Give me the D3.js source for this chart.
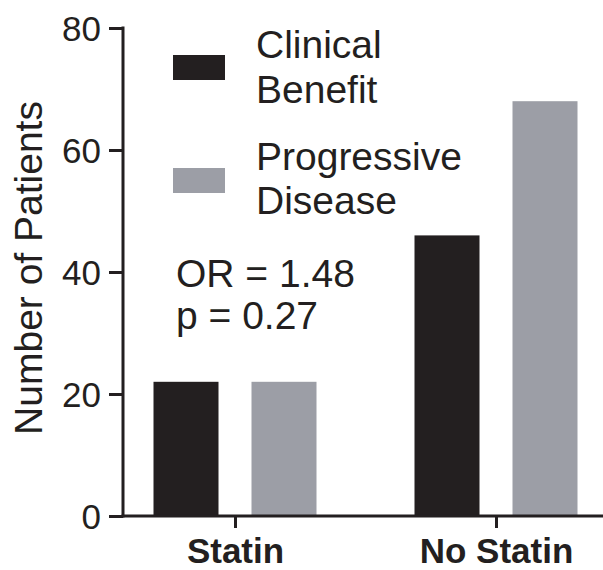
<!DOCTYPE html>
<html>
<head>
<meta charset="utf-8">
<script src="https://cdn.jsdelivr.net/npm/d3@7/dist/d3.min.js"></script>
<style>
html,body{margin:0;padding:0;background:#fff;}
svg{display:block;}
text{font-family:"Liberation Sans", Arial, Helvetica, sans-serif;fill:#231f20;}
</style>
</head>
<body>
<svg id="chart" width="603" height="570"></svg>
<script>
const categories = ["Statin", "No Statin"];
const series = ["Clinical Benefit", "Progressive Disease"];
const clinicalBenefit = [22, 46];
const progressiveDisease = [22, 68];
const yTicks = [0, 20, 40, 60, 80];
const legendLines = [["Clinical", "Benefit"], ["Progressive", "Disease"]];
const annotation = ["OR = 1.48", "p = 0.27"];
const colors = ["#231f20", "#9c9ea6"];

const svg = d3.select("#chart");
const ink = "#231f20";

const y = d3.scaleLinear().domain([0, 80]).range([516, 28]);
const x0 = d3.scaleBand().domain(categories).range([104.5, 626.5]).paddingInner(0).paddingOuter(0);
const x1 = d3.scaleBand().domain(series).range([49, 212]).paddingInner(33 / 98).paddingOuter(0);

const data = categories.map((c, i) => ({cat: c, vals: [clinicalBenefit[i], progressiveDisease[i]]}));

// bars
const g = svg.append("g");
data.forEach(d => {
  series.forEach((s, j) => {
    g.append("rect")
      .attr("x", x0(d.cat) + x1(s))
      .attr("y", y(d.vals[j]))
      .attr("width", x1.bandwidth())
      .attr("height", y(0) - y(d.vals[j]))
      .attr("fill", colors[j]);
  });
});

// y axis
const yAxis = svg.append("g").attr("transform", "translate(123,0)")
  .call(d3.axisLeft(y).tickValues(yTicks).tickSize(14).tickPadding(8).tickSizeOuter(0));
yAxis.select(".domain").attr("stroke", ink).attr("stroke-width", 3).attr("d", `M0,${y(80) - 1.5}V${y(0) + 1.5}`);
yAxis.selectAll(".tick line").attr("stroke", ink).attr("stroke-width", 3);
yAxis.selectAll(".tick text").attr("font-size", 35).attr("fill", ink)
  .style("font-family", '"Liberation Sans", Arial, sans-serif').attr("dy", "0.36em");

// x axis
const xCenter = d3.scalePoint().domain(categories).range([x0(categories[0]) + x0.bandwidth() / 2, x0(categories[1]) + x0.bandwidth() / 2]);
const xAxis = svg.append("g").attr("transform", `translate(0,${y(0)})`)
  .call(d3.axisBottom(xCenter).tickSize(12).tickPadding(10).tickSizeOuter(0));
xAxis.select(".domain").attr("stroke", ink).attr("stroke-width", 3).attr("d", `M121.5,0H603`);
xAxis.selectAll(".tick line").attr("stroke", ink).attr("stroke-width", 3);
xAxis.selectAll(".tick text").attr("font-size", 35).attr("font-weight", "bold").attr("fill", ink)
  .style("font-family", '"Liberation Sans", Arial, sans-serif').attr("dy", "0.72em");

// y title
svg.append("text")
  .attr("transform", `translate(42,${268}) rotate(-90)`)
  .attr("text-anchor", "middle")
  .attr("font-size", 39)
  .text("Number of Patients");

// legend
const legendY = [55, 168];
const lineBase = [[58, 103], [170, 214]];
series.forEach((s, j) => {
  svg.append("rect").attr("x", 173).attr("y", legendY[j]).attr("width", 52).attr("height", 25).attr("fill", colors[j]);
  legendLines[j].forEach((t, k) => {
    svg.append("text").attr("x", 256).attr("y", lineBase[j][k]).attr("font-size", 39).text(t);
  });
});

// annotation
annotation.forEach((t, k) => {
  svg.append("text").attr("x", 176).attr("y", [287, 329][k]).attr("font-size", 39).text(t);
});
</script>
</body>
</html>
